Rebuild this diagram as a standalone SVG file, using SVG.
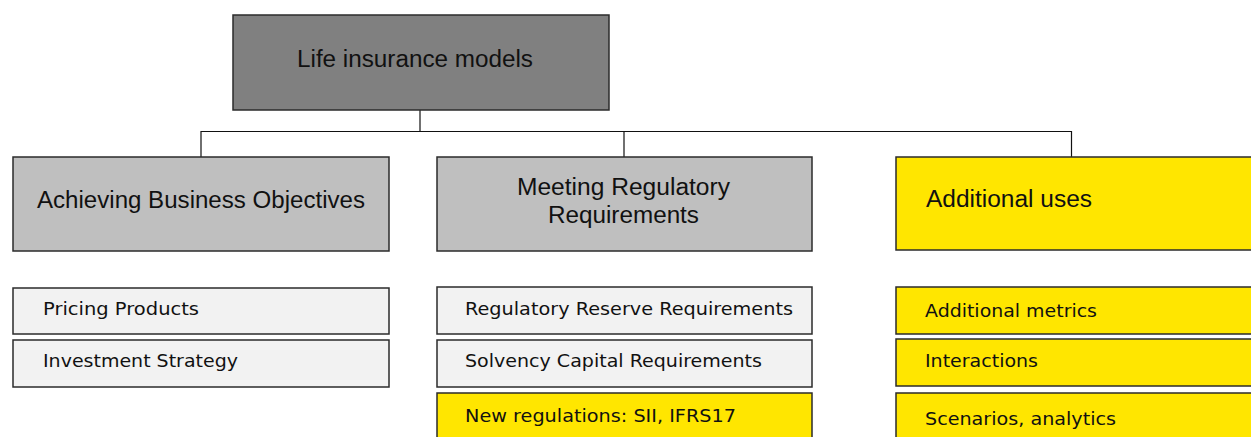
<svg xmlns="http://www.w3.org/2000/svg" width="1251" height="437" viewBox="0 0 1251 437">
  <style>
    .box { stroke: #2b2b2b; stroke-width: 1.5; }
    .root { fill: #808080; }
    .cat { fill: #bfbfbf; }
    .item { fill: #f2f2f2; }
    .hl { fill: #ffe600; }
    .head { font-family: "Liberation Sans", Arial, sans-serif; font-size: 23px; fill: #111; }
    .sub { font-family: "DejaVu Sans", Verdana, sans-serif; font-size: 18px; fill: #111; }
    .link { fill: none; stroke: #111; stroke-width: 1.2; }
  </style>

  <!-- connectors -->
  <g id="connectors">
    <path class="link" d="M420 110 V131.5"/>
    <path class="link" d="M201 157 V131.5 H1071.5 V157"/>
    <path class="link" d="M624 131.5 V157"/>
  </g>

  <!-- root -->
  <g id="root">
    <rect class="box root" x="233" y="15" width="376" height="95"/>
    <text class="head" x="297" y="67" textLength="236" lengthAdjust="spacingAndGlyphs">Life insurance models</text>
  </g>

  <!-- category nodes -->
  <g id="business">
    <rect class="box cat" x="13" y="157" width="376" height="94"/>
    <text class="head" x="37" y="208" textLength="328" lengthAdjust="spacingAndGlyphs">Achieving Business Objectives</text>
  </g>
  <g id="regulatory">
    <rect class="box cat" x="437" y="157" width="375" height="94"/>
    <text class="head" x="517" y="195" textLength="213" lengthAdjust="spacingAndGlyphs">Meeting Regulatory</text>
    <text class="head" x="548" y="223" textLength="151" lengthAdjust="spacingAndGlyphs">Requirements</text>
  </g>
  <g id="additional">
    <rect class="box hl" x="896" y="157" width="370" height="93"/>
    <text class="head" x="926" y="207" textLength="166" lengthAdjust="spacingAndGlyphs">Additional uses</text>
  </g>

  <!-- business items -->
  <g id="pricing">
    <rect class="box item" x="13" y="288" width="376" height="46"/>
    <text class="sub" x="43" y="315" textLength="156" lengthAdjust="spacingAndGlyphs">Pricing Products</text>
  </g>
  <g id="investment">
    <rect class="box item" x="13" y="340" width="376" height="47"/>
    <text class="sub" x="43" y="367" textLength="195" lengthAdjust="spacingAndGlyphs">Investment Strategy</text>
  </g>

  <!-- regulatory items -->
  <g id="reserve">
    <rect class="box item" x="437" y="287" width="375" height="47"/>
    <text class="sub" x="465" y="315" textLength="328" lengthAdjust="spacingAndGlyphs">Regulatory Reserve Requirements</text>
  </g>
  <g id="solvency">
    <rect class="box item" x="437" y="340" width="375" height="47"/>
    <text class="sub" x="465" y="367" textLength="297" lengthAdjust="spacingAndGlyphs">Solvency Capital Requirements</text>
  </g>
  <g id="newregs">
    <rect class="box hl" x="437" y="393" width="375" height="60"/>
    <text class="sub" x="465" y="422" textLength="271" lengthAdjust="spacingAndGlyphs">New regulations: SII, IFRS17</text>
  </g>

  <!-- additional items -->
  <g id="metrics">
    <rect class="box hl" x="896" y="287" width="370" height="47"/>
    <text class="sub" x="925" y="317" textLength="172" lengthAdjust="spacingAndGlyphs">Additional metrics</text>
  </g>
  <g id="interactions">
    <rect class="box hl" x="896" y="339" width="370" height="47"/>
    <text class="sub" x="925" y="367" textLength="113" lengthAdjust="spacingAndGlyphs">Interactions</text>
  </g>
  <g id="scenarios">
    <rect class="box hl" x="896" y="393" width="370" height="60"/>
    <text class="sub" x="925" y="425" textLength="191" lengthAdjust="spacingAndGlyphs">Scenarios, analytics</text>
  </g>
</svg>
